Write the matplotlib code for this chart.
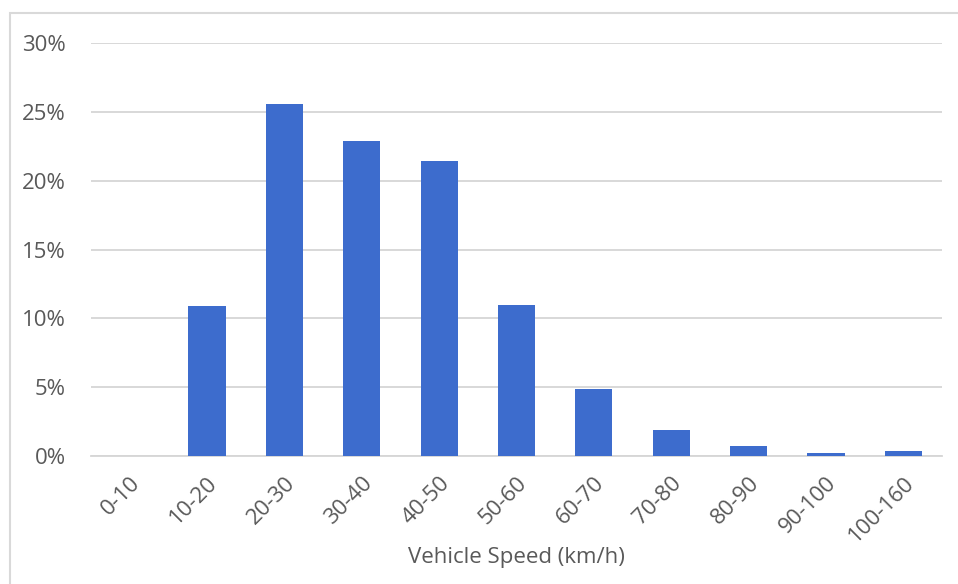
import matplotlib
matplotlib.use("Agg")
import matplotlib.pyplot as plt
from matplotlib.patches import Rectangle
from matplotlib.ticker import FuncFormatter, MultipleLocator

categories = ["0-10", "10-20", "20-30", "30-40", "40-50", "50-60",
              "60-70", "70-80", "80-90", "90-100", "100-160"]
share_pct = [0.02, 10.9, 25.6, 22.9, 21.4, 11.0, 4.9, 1.9, 0.7, 0.2, 0.35]

bar_color = "#3D6CCD"
text_color = "#595959"
grid_color = "#D6D6D6"

plt.rcParams["font.family"] = ["Open Sans", "DejaVu Sans"]

fig = plt.figure(figsize=(9.58, 5.84), dpi=100)
ax = fig.add_axes([91 / 958, 1 - 456 / 584, (942 - 91) / 958, (456 - 43) / 584])

x = range(len(categories))
ax.bar(x, share_pct, width=0.48, color=bar_color, zorder=3)

ax.set_xlim(-0.5, len(categories) - 0.5)
ax.set_ylim(0, 30)
ax.yaxis.set_major_locator(MultipleLocator(5))
ax.yaxis.set_major_formatter(FuncFormatter(lambda v, _: f"{v:.0f}%"))
ax.grid(axis="y", color=grid_color, linewidth=1.3, zorder=0)
ax.set_axisbelow(True)

for side in ("top", "right", "left"):
    ax.spines[side].set_visible(False)
ax.spines["bottom"].set_color(grid_color)
ax.spines["bottom"].set_linewidth(1.3)

ax.tick_params(axis="both", length=0, colors=text_color, labelsize=16)
ax.tick_params(axis="y", pad=18)
ax.set_xticks(list(x))
ax.set_xticklabels(categories, rotation=45, ha="right", rotation_mode="anchor")
ax.tick_params(axis="x", pad=12)

ax.set_xlabel("Vehicle Speed (km/h)", color=text_color, fontsize=16, labelpad=0)

# chart frame
fig.patches.append(Rectangle((10 / 958, -0.01), 1.0, 1 - 13 / 584 + 0.01,
                             transform=fig.transFigure, fill=False,
                             edgecolor="#D9D9D9", linewidth=1.5))

fig.savefig("out.png", dpi=100, facecolor="white")
